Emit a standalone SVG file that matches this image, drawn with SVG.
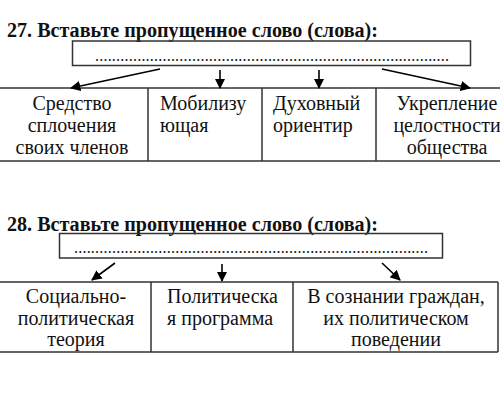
<svg xmlns="http://www.w3.org/2000/svg" width="500" height="402" viewBox="0 0 500 402">
<style>
text{font-family:'Liberation Serif','DejaVu Serif',serif;fill:#111}
.h{font-weight:bold;font-size:20px}
.c{font-size:20px}
.d{font-size:16px}
.m{text-anchor:middle}
.ln{stroke:#333;stroke-width:1.5;fill:none}
.ar{stroke:#000;stroke-width:1.6;fill:none;marker-end:url(#ah)}
</style>
<defs>
<marker id="ah" viewBox="0 0 10 10" refX="9" refY="5" markerWidth="6.5" markerHeight="6.5" markerUnits="strokeWidth" orient="auto">
<path d="M0,0 L10,5 L0,10 z" fill="#000"/>
</marker>
</defs>
<rect width="500" height="402" fill="#fff"/>

<g id="q27">
<text class="h" x="7" y="37" textLength="371" lengthAdjust="spacingAndGlyphs">27. Вставьте пропущенное слово (слова):</text>
<g id="box27"><rect class="ln" x="72.5" y="41" width="398" height="24.5"/>
<text class="d" x="95" y="61" textLength="354" lengthAdjust="spacing">....................................................................................</text></g>
<g id="table27">
<path class="ln" d="M0,88 H500 M0,161 H500 M148,88 V161 M262,88 V161 M376,88 V161"/>
<g id="n27a"><text class="c m" x="72" y="110">Средство</text><text class="c m" x="72" y="132">сплочения</text><text class="c m" x="72" y="154">своих членов</text></g>
<g id="n27b"><text class="c" x="160" y="110">Мобилизу</text><text class="c" x="160" y="132">ющая</text></g>
<g id="n27c"><text class="c" x="273" y="110">Духовный</text><text class="c" x="273" y="132">ориентир</text></g>
<g id="n27d"><text class="c m" x="447" y="110">Укрепление</text><text class="c m" x="447" y="132">целостности</text><text class="c m" x="447" y="154">общества</text></g>
</g>
</g>

<g id="q28">
<text class="h" x="7" y="231" textLength="371" lengthAdjust="spacingAndGlyphs">28. Вставьте пропущенное слово (слова):</text>
<g id="box28"><rect class="ln" x="59.5" y="233.5" width="383" height="24.5"/>
<text class="d" x="74" y="253" textLength="354" lengthAdjust="spacing">....................................................................................</text></g>
<g id="table28">
<path class="ln" d="M0,282 H498 M0,352 H498 M151,282 V352 M293,282 V352 M498,282 V352"/>
<g id="n28a"><text class="c m" x="76" y="303">Социально-</text><text class="c m" x="76" y="325">политическая</text><text class="c m" x="76" y="346">теория</text></g>
<g id="n28b"><text class="c" x="167" y="303">Политическа</text><text class="c" x="167" y="325">я программа</text></g>
<g id="n28c"><text class="c m" x="396" y="303">В сознании граждан,</text><text class="c m" x="396" y="325">их политическом</text><text class="c m" x="396" y="346">поведении</text></g>
</g>
</g>

<g id="connectors">
<line class="ar" x1="160" y1="69" x2="71" y2="88"/>
<line class="ar" x1="220" y1="70" x2="220" y2="88"/>
<line class="ar" x1="319" y1="70" x2="319" y2="88"/>
<line class="ar" x1="382" y1="69" x2="470" y2="88"/>
<line class="ar" x1="115" y1="263" x2="92" y2="280"/>
<line class="ar" x1="222" y1="264" x2="222" y2="281"/>
<line class="ar" x1="382" y1="263" x2="400" y2="280"/>
</g>
</svg>
